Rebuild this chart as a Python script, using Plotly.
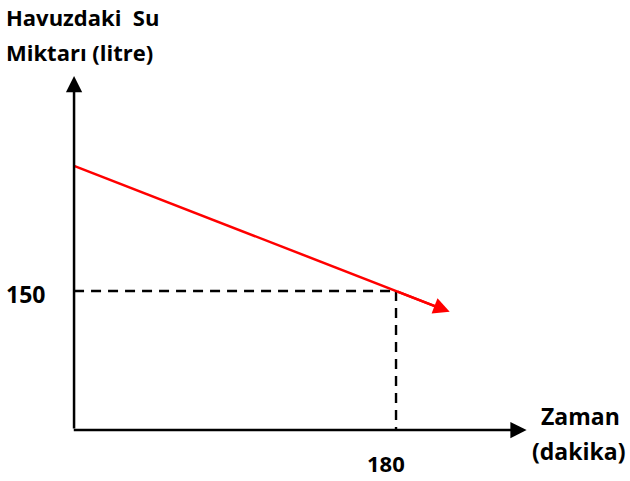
import plotly.graph_objects as go

# Data
time_min = [0, 180, 210]            # dakika
water_l = [285, 150, 127.5]         # litre
ref_x = 180
ref_y = 150
x_tick_labels = ["180"]
y_tick_labels = ["150"]
y_title_lines = ["Havuzdaki  Su", "Miktarı (litre)"]
x_title_lines = ["Zaman", "(dakika)"]

W, H = 630, 481
X_RANGE = [-41.4, 310.8]
Y_RANGE = [-55.0, 463.9]
AX_X_END = 253
AX_Y_END = 382

FONT = "Open Sans"
fig = go.Figure()

# dashed guides
fig.add_trace(go.Scatter(x=[0, ref_x], y=[ref_y, ref_y], mode="lines",
                         line=dict(color="black", width=2.4, dash="10px,7px"),
                         hoverinfo="skip", showlegend=False))
fig.add_trace(go.Scatter(x=[ref_x, ref_x], y=[ref_y, 0], mode="lines",
                         line=dict(color="black", width=2.4, dash="10px,7px"),
                         hoverinfo="skip", showlegend=False))

# red line (arrow annotation completes its tip)
fig.add_trace(go.Scatter(x=time_min[:-1] + [time_min[-1] - 4],
                         y=water_l[:-1] + [water_l[-1] + 3],
                         mode="lines", line=dict(color="#ff0000", width=2.5),
                         hoverinfo="skip", showlegend=False))

ann = []
ann.append(dict(x=time_min[-1], y=water_l[-1], ax=time_min[1], ay=water_l[1],
                xref="x", yref="y", axref="x", ayref="y", showarrow=True,
                arrowhead=2, arrowsize=1.3, arrowwidth=2.5, arrowcolor="#ff0000", text=""))
ann.append(dict(x=0, y=AX_Y_END, ax=0, ay=0, xref="x", yref="y", axref="x", ayref="y",
                showarrow=True, arrowhead=2, arrowsize=1.3, arrowwidth=2.5,
                arrowcolor="black", text=""))
ann.append(dict(x=AX_X_END, y=0, ax=-1, ay=0, xref="x", yref="y", axref="x", ayref="y",
                showarrow=True, arrowhead=2, arrowsize=1.3, arrowwidth=2.5,
                arrowcolor="black", text=""))

def px(x, y):
    return x / W, 1 - y / H

def label(text, x, y, xanchor="left", size=21):
    fx, fy = px(x, y)
    ann.append(dict(x=fx, y=fy, xref="paper", yref="paper", text="<b>%s</b>" % text,
                    showarrow=False, xanchor=xanchor, yanchor="middle",
                    font=dict(family=FONT, size=size, color="black")))

label(y_title_lines[0], 4, 17, size=22)
label(y_title_lines[1], 4, 52, size=22)
label(y_tick_labels[0], 4, 294, size=23)
label(x_tick_labels[0], 386, 463, "center", size=22)
label(x_title_lines[0], 580, 416, "center", size=23)
label(x_title_lines[1], 578, 451, "center", size=23)

fig.update_layout(
    width=W, height=H, margin=dict(l=0, r=0, t=0, b=0),
    paper_bgcolor="white", plot_bgcolor="white",
    xaxis=dict(range=X_RANGE, visible=False, fixedrange=True),
    yaxis=dict(range=Y_RANGE, visible=False, fixedrange=True),
    annotations=ann, showlegend=False,
)
fig.write_html("out.html", config={"displayModeBar": False},
               post_script="document.body.style.margin='0';document.body.style.padding='0';")
